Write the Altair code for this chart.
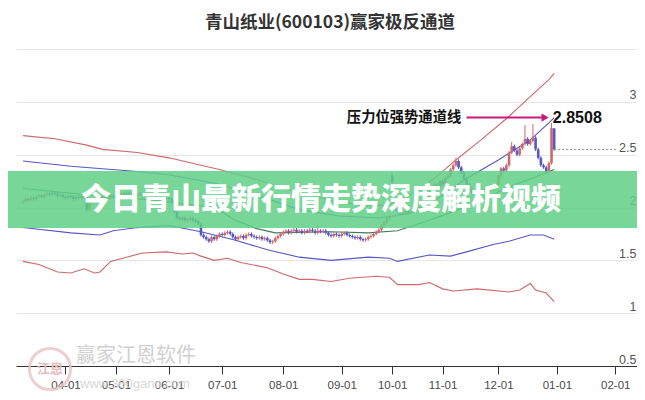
import json
import altair as alt
import pandas as pd

TITLE = "青山纸业(600103)赢家极反通道"
BANNER = "今日青山最新行情走势深度解析视频"
ANNOT = "压力位强势通道线"
ANNOT_VALUE = 2.8508
ANNOT_LABEL = "2.8508"

month_labels = ["04-01", "05-01", "06-01", "07-01", "08-01", "09-01",
                "10-01", "11-01", "12-01", "01-01", "02-01"]
month_start_idx = [16, 35, 55, 75, 98, 120, 139, 158, 179, 201, 223]

y_ticks = [0.5, 1, 1.5, 2, 2.5, 3, 3.5]

# daily closes (trading-day index 0..200)
closes = [
    2.06, 2.08, 2.07, 2.09, 2.08, 2.10, 2.11, 2.10, 2.12, 2.13, 2.12, 2.14, 2.13, 2.11, 2.12, 2.10,
    2.09, 2.11, 2.10, 2.08, 2.10, 2.09, 2.11, 2.10, 1.98, 2.04, 2.06, 2.08, 2.07, 2.09, 2.10, 2.08, 2.09, 2.11, 2.10,
    2.10, 2.12, 2.13, 2.12, 2.14, 2.13, 2.12, 2.11, 2.13, 2.12, 2.11, 2.12, 2.10, 2.11, 2.12, 2.10, 2.11, 2.09, 2.10, 2.09,
    2.08, 2.05, 1.96, 1.90, 1.89, 1.90, 1.88, 1.89, 1.90, 1.88, 1.87, 1.85, 1.74, 1.72, 1.70, 1.68, 1.72, 1.70, 1.73, 1.75,
    1.74, 1.76, 1.77, 1.75, 1.72, 1.70, 1.72, 1.73, 1.71, 1.74, 1.75, 1.73, 1.72, 1.71, 1.72, 1.70, 1.71, 1.69, 1.67, 1.68, 1.71, 1.73, 1.75,
    1.77, 1.78, 1.76, 1.78, 1.79, 1.77, 1.78, 1.76, 1.78, 1.77, 1.79, 1.78, 1.76, 1.78, 1.77, 1.78, 1.76, 1.74, 1.73, 1.75, 1.74, 1.73,
    1.75, 1.76, 1.74, 1.73, 1.72, 1.71, 1.72, 1.70, 1.69, 1.70, 1.72, 1.73, 1.75, 1.77, 1.79, 1.83, 1.86, 1.90, 1.92,
    2.24, 1.98, 1.96, 1.94, 1.95, 1.97, 1.95, 1.96, 1.98, 1.97, 1.99, 2.02, 2.05, 2.10, 2.15, 2.20, 2.22, 2.18, 2.25,
    2.22, 2.28, 2.30, 2.36, 2.40, 2.44, 2.38, 2.33, 2.27, 2.22, 2.17, 2.14, 2.15, 2.13, 2.16, 2.15, 2.18, 2.16, 2.19, 2.17, 2.22,
    2.30, 2.37, 2.35, 2.40, 2.52, 2.58, 2.54, 2.50, 2.56, 2.60, 2.65, 2.60, 2.63, 2.66, 2.55, 2.47, 2.40, 2.38, 2.34, 2.42, 2.75, 2.55,
]
first_open = 2.05
open_overrides = {67: 1.84, 139: 2.30, 140: 2.00}
high_overrides = {11: 2.17, 24: 2.10, 111: 1.83, 139: 2.33, 163: 2.47, 184: 2.62,
                  189: 2.78, 192: 2.79, 199: 2.80, 200: 2.74}
low_overrides = {24: 1.96, 139: 2.22, 183: 2.38}
WICK = 0.015

# channel lines: (index, value) key points
red_upper_idx = [0, 12, 24, 30, 43, 55, 67, 74, 86, 101, 116, 127, 137, 141, 149, 156, 163, 172, 182, 191, 198, 200]
red_upper_val = [2.68, 2.65, 2.59, 2.55, 2.52, 2.47, 2.40, 2.36, 2.28, 2.16, 2.07, 2.02, 2.02, 2.06, 2.16, 2.30, 2.45, 2.63, 2.84, 3.05, 3.21, 3.27]

blue_upper_idx = [0, 18, 43, 55, 74, 90, 104, 119, 134, 145, 156, 166, 179, 191, 198, 200]
blue_upper_val = [2.44, 2.39, 2.34, 2.31, 2.22, 2.10, 1.98, 1.92, 1.90, 1.94, 2.08, 2.26, 2.45, 2.64, 2.80, 2.85]

mid_idx = [0, 24, 49, 72, 80, 88, 95, 116, 130, 141, 153, 164, 174, 182, 191, 200]
mid_val = [2.18, 2.12, 2.07, 2.00, 1.88, 1.80, 1.76, 1.77, 1.76, 1.78, 1.88, 1.98, 2.08, 2.19, 2.27, 2.36]

blue_lower_idx = [0, 18, 29, 34, 43, 55, 67, 72, 80, 92, 104, 116, 130, 138, 141, 153, 161, 167, 177, 183, 191, 196, 200]
blue_lower_val = [1.81, 1.76, 1.74, 1.78, 1.81, 1.83, 1.77, 1.74, 1.69, 1.60, 1.53, 1.50, 1.53, 1.52, 1.49, 1.55, 1.54, 1.58, 1.65, 1.68, 1.74, 1.74, 1.70]

red_lower_idx = [0, 6, 13, 18, 23, 27, 29, 33, 39, 45, 54, 60, 64, 67, 72, 77, 82, 92, 98, 104, 109, 116, 123, 133, 138, 141, 149, 153, 158, 162, 171, 183, 187, 191, 193, 197, 200]
red_lower_val = [1.49, 1.46, 1.39, 1.38, 1.42, 1.38, 1.39, 1.49, 1.53, 1.57, 1.58, 1.56, 1.57, 1.54, 1.50, 1.52, 1.48, 1.43, 1.37, 1.32, 1.32, 1.30, 1.33, 1.35, 1.34, 1.27, 1.27, 1.29, 1.23, 1.21, 1.23, 1.20, 1.22, 1.28, 1.22, 1.19, 1.11]

arrow_idx = [167, 197]
arrow_head_idx = 196.6
annot_text_idx = 165
annot_value_idx = 199.5
last_line_end_idx = 224

RED = "#e8211d"
GREEN = "#1f9e3a"

# ---------- tables ----------
rows = []
prev = first_open
for i, c in enumerate(closes):
    o = open_overrides.get(i, prev)
    h = high_overrides.get(i, max(o, c) + WICK)
    lo = low_overrides.get(i, min(o, c) - WICK)
    rows.append(dict(idx=i, open=o, close=c, high=h, low=lo,
                     dir="up" if c >= o else "down"))
    prev = c
candles = pd.DataFrame(rows)

line_frames = []
for name, xs, vs in [("red_upper", red_upper_idx, red_upper_val),
                     ("blue_upper", blue_upper_idx, blue_upper_val),
                     ("mid", mid_idx, mid_val),
                     ("blue_lower", blue_lower_idx, blue_lower_val),
                     ("red_lower", red_lower_idx, red_lower_val)]:
    line_frames.append(pd.DataFrame({"band": name, "idx": xs, "v": vs}))
bands = pd.concat(line_frames, ignore_index=True)

one = pd.DataFrame({"a": [0]})

x_scale = alt.Scale(domain=[-0.75, 229.3], nice=False, zero=False)
y_scale = alt.Scale(domain=[0.5, 3.5], nice=False, zero=False)

label_expr = "{}[indexof({}, datum.value)]".format(json.dumps(month_labels), json.dumps(month_start_idx))

x_axis = alt.Axis(values=month_start_idx, labelExpr=label_expr, title=None, grid=False,
                  tickSize=8, tickColor="#333", domainColor="#333", labelColor="#4a4a4a",
                  labelFont="Liberation Sans", labelFontSize=11.5, labelPadding=5,
                  orient="bottom", labelFlush=False, labelOverlap=False)
y_axis = alt.Axis(orient="right", values=y_ticks,
                  labelExpr="datum.value >= 3.5 ? '' : format(datum.value, '~g')",
                  ticks=False, domain=False, grid=True, gridColor="#e6e6e6",
                  labelAlign="right", labelPadding=-1, labelBaseline="alphabetic",
                  labelOffset=-3, labelColor="#555", labelFont="Liberation Sans",
                  labelFontSize=12.5, title=None)


def X(field):
    return alt.X(field, scale=x_scale, axis=x_axis)


def Y(field):
    return alt.Y(field, scale=y_scale, axis=y_axis)


# watermark
wm_logo = alt.Chart(one).mark_point(shape="circle", size=1700, filled=False, stroke="#e9c4c4",
                                    strokeWidth=3, opacity=0.8).encode(
    x=alt.value(34), y=alt.value(320))
wm_logo_txt = alt.Chart(one).mark_text(text="江恩", font="Noto Sans CJK SC", fontSize=13,
                                       fontWeight="bold", color="#e6bcbc").encode(
    x=alt.value(34), y=alt.value(320))
wm_name = alt.Chart(one).mark_text(text="赢家江恩软件", font="Noto Sans CJK SC", fontSize=20,
                                   color="#c9c9c9", opacity=0.85).encode(
    x=alt.value(120), y=alt.value(307))
wm_url = alt.Chart(one).mark_text(text="www.360gann.com", font="Liberation Sans", fontSize=13,
                                  color="#d4d4d4", opacity=0.9).encode(
    x=alt.value(119), y=alt.value(335))

band_lines = alt.Chart(bands).mark_line(strokeWidth=1.1).encode(
    x=X("idx:Q"),
    y=Y("v:Q"),
    color=alt.Color("band:N", legend=None,
                    scale=alt.Scale(domain=["red_upper", "blue_upper", "mid", "blue_lower", "red_lower"],
                                    range=["#d0676b", "#5656c4", "#3f7d5c", "#5656c4", "#d0676b"])),
    detail="band:N",
)

dir_color = alt.Color("dir:N", legend=None,
                      scale=alt.Scale(domain=["up", "down"], range=[RED, GREEN]))

wicks = alt.Chart(candles).mark_rule(strokeWidth=1).encode(
    x=X("idx:Q"), y=Y("low:Q"), y2="high:Q", color=dir_color,
)
bodies = alt.Chart(candles).mark_bar(size=2.6).encode(
    x=X("idx:Q"), y=Y("open:Q"), y2="close:Q", color=dir_color,
)

last_df = pd.DataFrame({"x": [len(closes) - 1], "x2": [last_line_end_idx], "v": [closes[-1]]})
last_line = alt.Chart(last_df).mark_rule(strokeDash=[2, 2], color="#8a8a8a", strokeWidth=1).encode(
    x=X("x:Q"), x2="x2:Q", y=Y("v:Q"),
)

arrow_df = pd.DataFrame({"x": [arrow_idx[0]], "x2": [arrow_idx[1]], "v": [ANNOT_VALUE]})
arrow_line = alt.Chart(arrow_df).mark_rule(color="#c8197c", strokeWidth=2).encode(
    x=X("x:Q"), x2="x2:Q", y=Y("v:Q"),
)
head_df = pd.DataFrame({"x": [arrow_head_idx], "v": [ANNOT_VALUE]})
arrow_head = alt.Chart(head_df).mark_point(shape="triangle-right", filled=True, size=70,
                                           color="#c8197c", opacity=1).encode(
    x=X("x:Q"), y=Y("v:Q"),
)
annot_df = pd.DataFrame({"x": [annot_text_idx], "v": [ANNOT_VALUE], "t": [ANNOT]})
annot_text = alt.Chart(annot_df).mark_text(align="right", baseline="middle", font="Noto Sans CJK SC",
                                           fontSize=14.3, fontWeight="bold", color="#111").encode(
    x=X("x:Q"), y=Y("v:Q"), text="t:N",
)
val_df = pd.DataFrame({"x": [annot_value_idx], "v": [ANNOT_VALUE], "t": [ANNOT_LABEL]})
val_text = alt.Chart(val_df).mark_text(align="left", baseline="middle", font="Liberation Sans",
                                       fontSize=16, fontWeight="bold", color="#111").encode(
    x=X("x:Q"), y=Y("v:Q"), text="t:N",
)

banner = alt.Chart(one).mark_rect(color="#5fcf86", opacity=0.85).encode(
    x=alt.value(-16), x2=alt.value(640), y=alt.value(122), y2=alt.value(179))
banner_text = alt.Chart(one).mark_text(text=BANNER, font="Noto Sans CJK SC", fontSize=30,
                                       fontWeight=900, color="white").encode(
    x=alt.value(305), y=alt.value(151))

title = alt.Chart(one).mark_text(text=TITLE, font="Noto Sans CJK SC", fontSize=17.5,
                                 fontWeight="bold", color="#333").encode(
    x=alt.value(314), y=alt.value(-26))

chart = alt.layer(
    wm_logo, wm_logo_txt, wm_name, wm_url,
    band_lines, wicks, bodies, last_line,
    arrow_line, arrow_head, annot_text, val_text,
    banner, banner_text, title,
).properties(
    width=621, height=317,
    autosize=alt.AutoSizeParams(type="none"),
    padding={"left": 8, "top": 41, "right": 0, "bottom": 26},
).configure_view(stroke=None)

chart.save("out.html", embed_options={"renderer": "svg", "actions": False})
